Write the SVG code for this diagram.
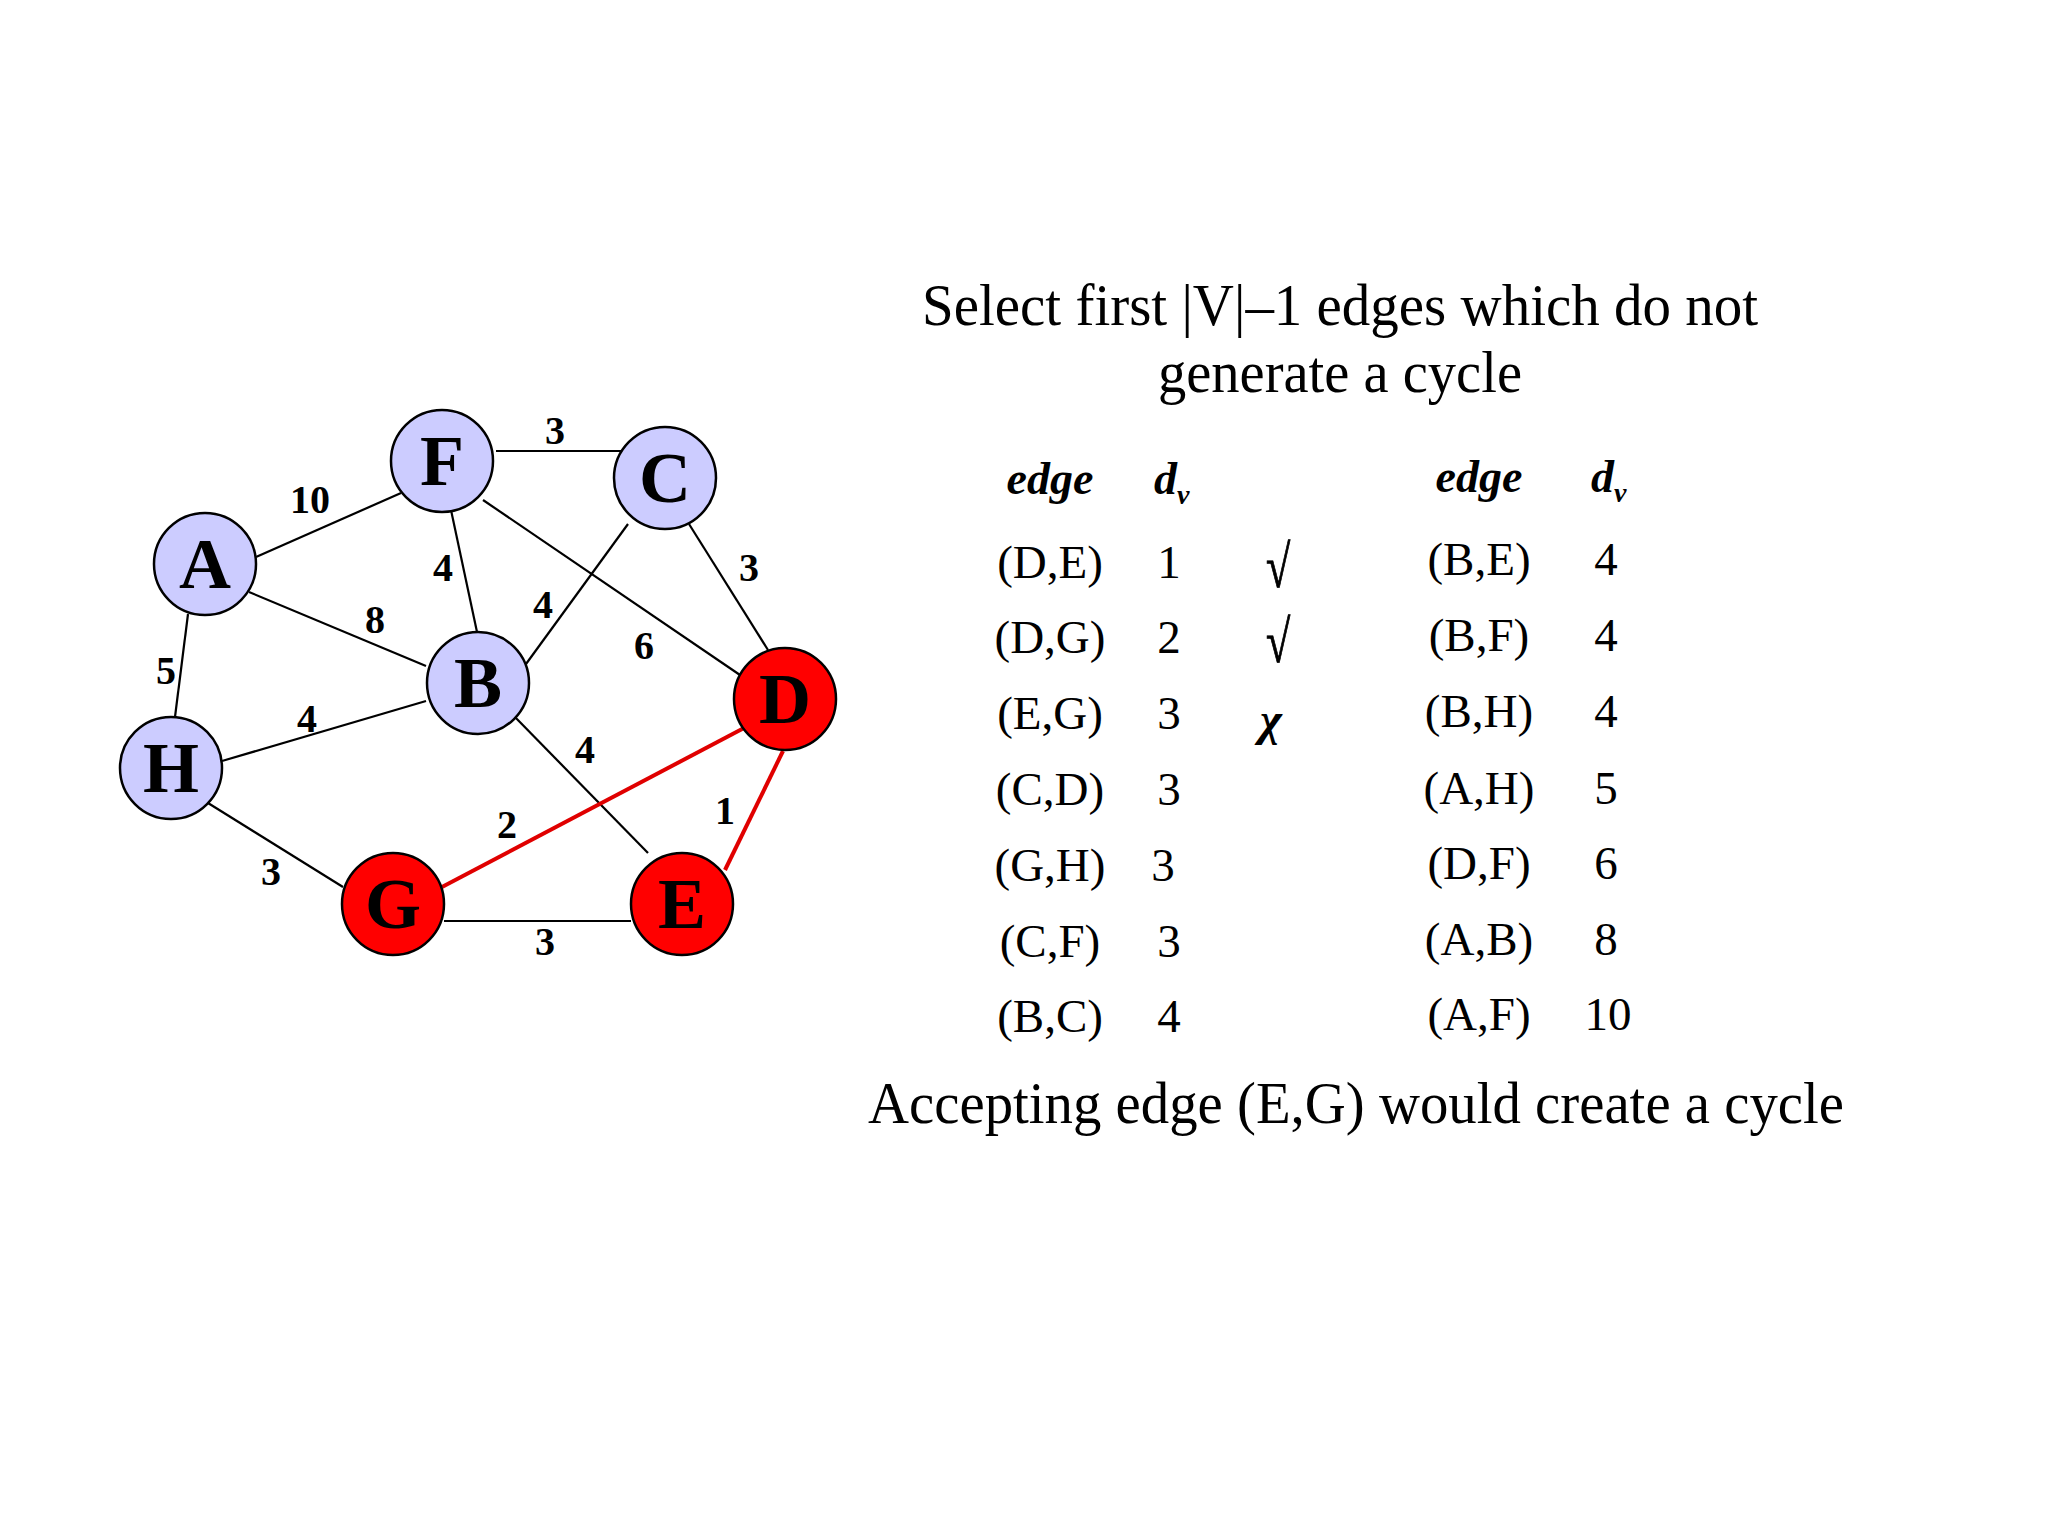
<svg xmlns="http://www.w3.org/2000/svg" width="2048" height="1536" viewBox="0 0 2048 1536">
<style>
.node{stroke:#000;stroke-width:2.5}
.blue{fill:#CCCCFF}
.red{fill:#FF0000}
.nl{font-family:"Liberation Serif","Times New Roman",serif;font-weight:bold;font-size:72px;text-anchor:middle;fill:#000}
.e{stroke:#000;stroke-width:2.2;fill:none}
.er{stroke:#E00000;stroke-width:4;fill:none}
.w{font-family:"Liberation Serif","Times New Roman",serif;font-weight:bold;font-size:40px;text-anchor:middle;fill:#000}
.t{font-family:"Liberation Serif","Times New Roman",serif;font-size:60px;text-anchor:middle;fill:#000}
.r{font-family:"Liberation Serif","Times New Roman",serif;font-size:47px;text-anchor:middle;fill:#000}
.h{font-family:"Liberation Serif","Times New Roman",serif;font-size:46px;font-weight:bold;font-style:italic;fill:#000}
.ck{font-family:"Liberation Serif","Times New Roman",serif;font-size:52px;text-anchor:middle;fill:#000;stroke:#000;stroke-width:0.8}
</style>
<rect width="2048" height="1536" fill="#FFFFFF"/>
<g id="connectors">
<line class="e" x1="496" y1="451" x2="621" y2="451"/>
<line class="e" x1="256" y1="557" x2="401" y2="493"/>
<line class="e" x1="249" y1="592" x2="426" y2="666"/>
<line class="e" x1="451" y1="510" x2="477" y2="632"/>
<line class="e" x1="483" y1="500" x2="740" y2="675"/>
<line class="e" x1="628" y1="524" x2="526" y2="664"/>
<line class="e" x1="689" y1="524" x2="768" y2="650"/>
<line class="e" x1="188" y1="614" x2="175" y2="717"/>
<line class="e" x1="222" y1="761" x2="426" y2="701"/>
<line class="e" x1="513" y1="715" x2="648" y2="853"/>
<line class="e" x1="208" y1="803" x2="343" y2="887"/>
<line class="e" x1="444" y1="921" x2="631" y2="921"/>
<line class="er" x1="442" y1="887" x2="744" y2="728"/>
<line class="er" x1="725" y1="870" x2="783" y2="751"/>
</g>
<g id="weights">
<text class="w" x="555" y="444">3</text>
<text class="w" x="310" y="513">10</text>
<text class="w" x="443" y="581">4</text>
<text class="w" x="375" y="633">8</text>
<text class="w" x="543" y="618">4</text>
<text class="w" x="749" y="581">3</text>
<text class="w" x="644" y="659">6</text>
<text class="w" x="166" y="684">5</text>
<text class="w" x="307" y="732">4</text>
<text class="w" x="585" y="763">4</text>
<text class="w" x="507" y="838">2</text>
<text class="w" x="725" y="824">1</text>
<text class="w" x="271" y="885">3</text>
<text class="w" x="545" y="955">3</text>
</g>
<g id="node-F"><circle class="node blue" cx="442" cy="461" r="51"/><text class="nl" x="442" y="485">F</text></g>
<g id="node-C"><circle class="node blue" cx="665" cy="478" r="51"/><text class="nl" x="665" y="502">C</text></g>
<g id="node-A"><circle class="node blue" cx="205" cy="564" r="51"/><text class="nl" x="205" y="588">A</text></g>
<g id="node-B"><circle class="node blue" cx="478" cy="683" r="51"/><text class="nl" x="478" y="707">B</text></g>
<g id="node-D"><circle class="node red" cx="785" cy="699" r="51"/><text class="nl" x="785" y="723">D</text></g>
<g id="node-H"><circle class="node blue" cx="171" cy="768" r="51"/><text class="nl" x="171" y="792">H</text></g>
<g id="node-G"><circle class="node red" cx="393" cy="904" r="51"/><text class="nl" x="393" y="928">G</text></g>
<g id="node-E"><circle class="node red" cx="682" cy="904" r="51"/><text class="nl" x="682" y="928">E</text></g>
<g id="title">
<text class="t" x="1340" y="325" textLength="836" lengthAdjust="spacingAndGlyphs">Select first |V|–1 edges which do not</text>
<text class="t" x="1340" y="392" textLength="364" lengthAdjust="spacingAndGlyphs">generate a cycle</text>
</g>
<g id="table">
<text class="h" x="1050" y="494" text-anchor="middle">edge</text>
<text class="h" x="1154" y="494">d<tspan font-size="28" dy="10">v</tspan></text>
<text class="h" x="1479" y="492" text-anchor="middle">edge</text>
<text class="h" x="1591" y="492">d<tspan font-size="28" dy="10">v</tspan></text>
<text class="r" x="1050" y="578">(D,E)</text><text class="r" x="1169" y="578">1</text>
<text class="r" x="1050" y="653">(D,G)</text><text class="r" x="1169" y="653">2</text>
<text class="r" x="1050" y="729">(E,G)</text><text class="r" x="1169" y="729">3</text>
<text class="r" x="1050" y="805">(C,D)</text><text class="r" x="1169" y="805">3</text>
<text class="r" x="1050" y="881">(G,H)</text><text class="r" x="1163" y="881">3</text>
<text class="r" x="1050" y="957">(C,F)</text><text class="r" x="1169" y="957">3</text>
<text class="r" x="1050" y="1032">(B,C)</text><text class="r" x="1169" y="1032">4</text>
<text class="ck" transform="translate(1278,587) scale(0.85,1.15)">√</text>
<text class="ck" transform="translate(1278,662) scale(0.85,1.15)">√</text>
<text class="r" x="1271" y="735" font-size="82" font-style="italic" font-weight="bold">χ</text>
<text class="r" x="1479" y="575">(B,E)</text><text class="r" x="1606" y="575">4</text>
<text class="r" x="1479" y="651">(B,F)</text><text class="r" x="1606" y="651">4</text>
<text class="r" x="1479" y="727">(B,H)</text><text class="r" x="1606" y="727">4</text>
<text class="r" x="1479" y="804">(A,H)</text><text class="r" x="1606" y="804">5</text>
<text class="r" x="1479" y="879">(D,F)</text><text class="r" x="1606" y="879">6</text>
<text class="r" x="1479" y="955">(A,B)</text><text class="r" x="1606" y="955">8</text>
<text class="r" x="1479" y="1030">(A,F)</text><text class="r" x="1608" y="1030">10</text>
</g>
<g id="footer">
<text class="t" x="1356" y="1123" textLength="976" lengthAdjust="spacingAndGlyphs">Accepting edge (E,G) would create a cycle</text>
</g>
</svg>
